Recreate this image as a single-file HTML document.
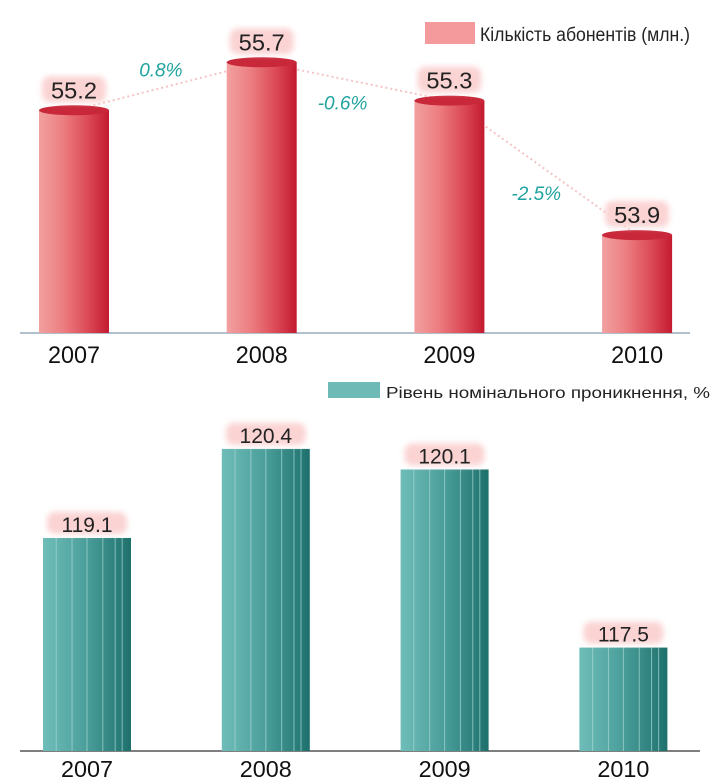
<!DOCTYPE html>
<html><head><meta charset="utf-8">
<style>
body{margin:0;background:#fff;}
svg{display:block;font-family:"Liberation Sans",sans-serif;}
</style></head>
<body>
<svg id="chart" width="710" height="782" viewBox="0 0 710 782">
<defs>
<linearGradient id="redG" x1="0" x2="1" y1="0" y2="0">
<stop offset="0" stop-color="#f2a0a0"/><stop offset="0.35" stop-color="#ec7d80"/><stop offset="0.7" stop-color="#dc4a56"/><stop offset="1" stop-color="#c31a30"/>
</linearGradient>
<linearGradient id="tealG" x1="0" x2="1" y1="0" y2="0">
<stop offset="0" stop-color="#6fbdb9"/><stop offset="0.5" stop-color="#4a9e9a"/><stop offset="1" stop-color="#1e706c"/>
</linearGradient>
<filter id="glow" x="-20%" y="-40%" width="140%" height="180%"><feGaussianBlur stdDeviation="3"/></filter>
</defs>
<g>
<line x1="20" y1="333" x2="690" y2="333" stroke="#9ab" stroke-width="1.5"/>
<rect x="425" y="22" width="50" height="22" fill="#f59a9c"/>
<text x="480" y="41" font-size="19" fill="#222" textLength="210" lengthAdjust="spacingAndGlyphs">Кількість абонентів (млн.)</text>
<g id="topBars"></g>
</g>
<g>
<line x1="20" y1="751" x2="700" y2="751" stroke="#333" stroke-width="1.2"/>
<rect x="328" y="382" width="52" height="16" fill="#6dbab6"/>
<text x="386" y="398" font-size="16" fill="#222" textLength="324" lengthAdjust="spacingAndGlyphs">Рівень номінального проникнення, %</text>
<g id="botBars"></g>
</g>
</svg>
<script>
const years = ["2007","2008","2009","2010"];
const subscribers = [55.2, 55.7, 55.3, 53.9];
const growthLabels = ["0.8%", "-0.6%", "-2.5%"];
const penetration = [119.1, 120.4, 120.1, 117.5];

const NS = "http://www.w3.org/2000/svg";
function mk(tag, attrs, parent){const e=document.createElementNS(NS,tag);for(const k in attrs)e.setAttribute(k,attrs[k]);parent.appendChild(e);return e;}

const tBase=333, tMin=52.88, tK=96;
const tx = i => 74 + i*187.7;
const ty = v => tBase - (v - tMin)*tK;
const bBase=751, bMin=115.99, bK=68.5;
const bx = i => 87 + i*178.8;
const by = v => bBase - (v - bMin)*bK;

const tg=document.getElementById('topBars');
let pts=subscribers.map((v,i)=>tx(i)+","+ty(v)).join(" ");
const pl=mk('polyline',{points:pts,fill:"none",stroke:"#f4c4c4","stroke-width":2,"stroke-dasharray":"2 3"},tg);


subscribers.forEach((v,i)=>{
  const cx=tx(i), top=ty(v), w=70;
  const r=mk('rect',{x:cx-w/2,y:top,width:w,height:tBase-top,fill:"url(#redG)"},tg);
  
  
  const el=mk('ellipse',{cx:cx,cy:top,rx:w/2,ry:5,fill:"#c8283a"},tg);
  
  
  const gl=mk('rect',{x:cx-32,y:top-34,width:64,height:26,rx:8,fill:"#fbd3d3",filter:"url(#glow)"},tg);
  
  
  const t=mk('text',{x:cx,y:top-12,"text-anchor":"middle","font-size":23,fill:"#222",textLength:46,lengthAdjust:"spacingAndGlyphs"},tg);
  t.textContent=v.toFixed(1);
  
  
  const y=mk('text',{x:cx,y:363,"text-anchor":"middle","font-size":24,fill:"#111",textLength:52,lengthAdjust:"spacingAndGlyphs"},tg);
  y.textContent=years[i];
  
  
});
growthLabels.forEach((g,i)=>{
  const mx=(tx(i)+tx(i+1))/2, my=(ty(subscribers[i])+ty(subscribers[i+1]))/2;
  const dy = i===0 ? -10 : (i===1 ? 28 : 32);
  const dx = i===1 ? -13 : -7;
  const t=mk('text',{x:mx+dx,y:my+dy,"text-anchor":"middle","font-size":19,"font-style":"italic",fill:"#1fa3a0"},tg);
  t.textContent=g;
  
  
});

const bg=document.getElementById('botBars');
penetration.forEach((v,i)=>{
  const cx=bx(i), top=by(v), w=88;
  const r=mk('rect',{x:cx-w/2,y:top,width:w,height:bBase-top,fill:"url(#tealG)"},bg);
  
  
  [0.15,0.33,0.5,0.68,0.82,0.9].forEach((f,j)=>{
    const s=mk('line',{x1:cx-w/2+w*f,x2:cx-w/2+w*f,y1:top,y2:bBase,stroke:"#a8d8d5","stroke-width":1,opacity:0.7},bg);
    
    
  });
  const gl=mk('rect',{x:cx-40,y:top-26,width:80,height:22,rx:8,fill:"#fbd3d3",filter:"url(#glow)"},bg);
  
  
  const t=mk('text',{x:cx,y:top-6,"text-anchor":"middle","font-size":21,fill:"#222"},bg);
  t.textContent=v.toFixed(1);
  
  
  const y=mk('text',{x:cx,y:777,"text-anchor":"middle","font-size":23,fill:"#111",textLength:52,lengthAdjust:"spacingAndGlyphs"},bg);
  y.textContent=years[i];
  
  
});
</script>
</body></html>
